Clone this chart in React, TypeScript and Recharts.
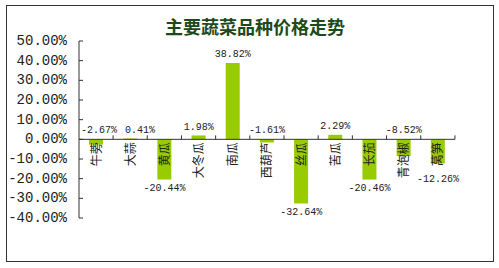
import { Bar, BarChart, LabelList, ReferenceLine, XAxis, YAxis } from "recharts";

const categories = ["牛蒡", "大蒜", "黄瓜", "大冬瓜", "南瓜", "西葫芦", "丝瓜", "苦瓜", "长茄", "青泡椒", "莴笋"];
const changes = [-2.67, 0.41, -20.44, 1.98, 38.82, -1.61, -32.64, 2.29, -20.46, -8.52, -12.26];
const yTicks = [-40, -30, -20, -10, 0, 10, 20, 30, 40, 50];

const data = categories.map((name, i) => ({ name, change: changes[i] }));

const W = 499;
const H = 268;
const MARGIN = { top: 41, right: 44, bottom: 50, left: 9 };
const Y_AXIS_W = 70;
const PLOT_LEFT = MARGIN.left + Y_AXIS_W;
// width of one category band, used for the separator ticks on the zero line
const BAND = (W - MARGIN.left - MARGIN.right - Y_AXIS_W) / categories.length;
const CHAR_W = 6; // 10px monospace

const MONO = "'Liberation Mono', 'DejaVu Sans Mono', monospace";
const CJK = "'Noto Sans CJK SC', sans-serif";

const fmt = (v: number) => `${v.toFixed(2)}%`;

// horizontal centres for the value labels: labels that sit on the zero line
// are pushed right so they don't run into the axis or into each other
const labelCenters: number[] = [];
{
  let prevRight = PLOT_LEFT - 6;
  let prevNearZero = true;
  changes.forEach((v, i) => {
    const half = (fmt(v).length * CHAR_W) / 2;
    let c = PLOT_LEFT + (i + 0.5) * BAND;
    const nearZero = Math.abs(v) < 10;
    if (nearZero && prevNearZero) c = Math.max(c, prevRight + 8 + half);
    labelCenters.push(c);
    prevRight = c + half;
    prevNearZero = nearZero;
  });
}

function YTick({ x, y, payload }: any) {
  return (
    <g>
      <line x1={x + 12} x2={x + 16} y1={y} y2={y} stroke="#333" />
      <text x={x} y={y} textAnchor="end" dominantBaseline="central" fontSize={14} fontFamily={MONO} fill="#222">
        {fmt(payload.value)}
      </text>
    </g>
  );
}

function BarLabels(props: any) {
  const { x, y, width, height, value, index } = props;
  const top = Math.min(y, y + height);
  const bottom = Math.max(y, y + height);
  const zeroY = value >= 0 ? bottom : top;
  const endY = value >= 0 ? top : bottom;
  const cx = x + width / 2;
  const name = categories[index] ?? props.payload?.name;
  const tx = labelCenters[index] ?? cx;

  let valueY: number;
  if (value >= 0) valueY = endY - 8;
  else if (value > -10) valueY = zeroY - 9;
  else valueY = Math.max(endY + 9, zeroY + 40);

  return (
    <g>
      <line x1={cx + BAND / 2} x2={cx + BAND / 2} y1={zeroY - 4} y2={zeroY} stroke="#333" />
      <text
        transform={`translate(${cx},${zeroY + 3}) rotate(-90)`}
        textAnchor="end"
        dy="0.38em"
        fontSize={12}
        fontFamily={CJK}
        fill="#222"
      >
        {name}
      </text>
      <text x={tx} y={valueY} textAnchor="middle" dominantBaseline="central" fontSize={10} fontFamily={MONO} fill="#222">
        {fmt(value)}
      </text>
    </g>
  );
}

export default function App() {
  return (
    <div style={{ position: "absolute", left: 0, top: 0, width: W, height: H, background: "#fff" }}>
      <div
        style={{
          position: "absolute",
          left: 6,
          top: 5,
          width: 488,
          height: 257,
          boxSizing: "border-box",
          border: "1.5px solid #333",
        }}
      />
      <div
        style={{
          position: "absolute",
          left: 6,
          top: 16,
          width: 498,
          textAlign: "center",
          fontFamily: CJK,
          fontWeight: 700,
          fontSize: 18,
          lineHeight: "20px",
          color: "#1d4a1d",
        }}
      >
        主要蔬菜品种价格走势
      </div>
      <div style={{ position: "absolute", left: 0, top: 0 }}>
        <BarChart width={W} height={H} data={data} margin={MARGIN}>
          <XAxis dataKey="name" hide />
          <YAxis
            width={Y_AXIS_W}
            domain={[-40, 50]}
            ticks={yTicks}
            interval={0}
            tickSize={0}
            tickMargin={12}
            tickLine={false}
            axisLine={{ stroke: "#333" }}
            tick={<YTick />}
          />
          <Bar dataKey="change" fill="#99CC00" barSize={14} isAnimationActive={false}>
            <LabelList dataKey="change" content={<BarLabels />} />
          </Bar>
          <ReferenceLine y={0} stroke="#333" ifOverflow="extendDomain" />
        </BarChart>
      </div>
    </div>
  );
}
